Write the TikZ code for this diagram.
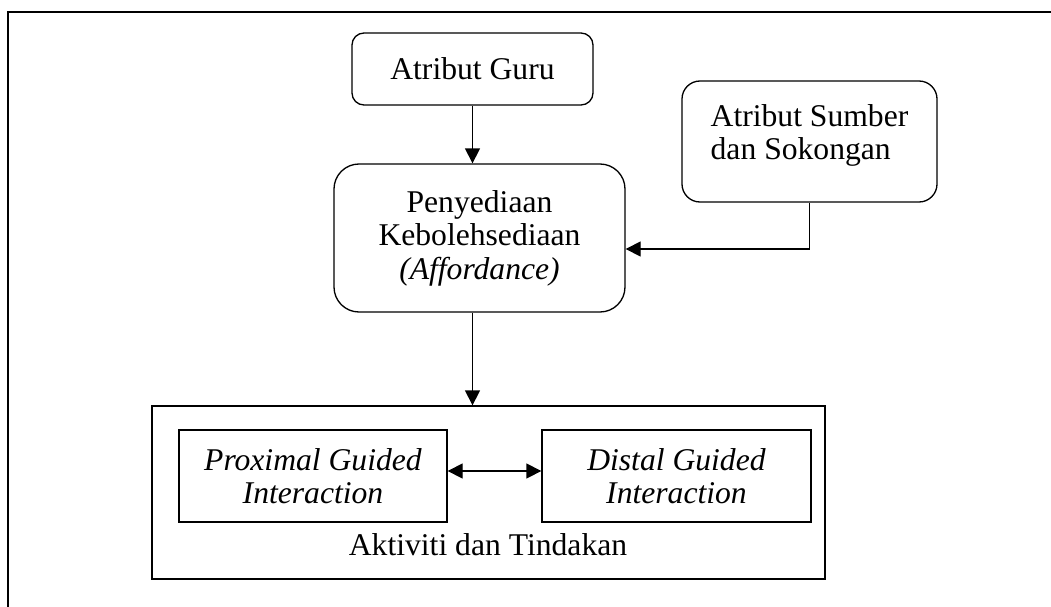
\documentclass[tikz,border=0pt]{standalone}
\usepackage{fontspec}
\setmainfont{Liberation Serif}
\usepackage{tikz}
\usetikzlibrary{arrows.meta,positioning,calc}

\begin{document}
\begin{tikzpicture}[
    font=\fontsize{18}{19}\selectfont,
    line width=0.75pt,
    tip/.style={-{Triangle[length=0.3cm,width=0.3cm]}},
    roundbox/.style={draw, rounded corners=0.3cm, align=center, inner sep=0pt},
    plainbox/.style={draw, align=center, inner sep=0pt}
  ]
    \useasboundingbox (0,0) rectangle (21.02,-12.12);
    \clip (0,0) rectangle (21.02,-12.12);

    % outer frame (cut off at right and bottom)
    \draw[line width=0.85pt] (0.16,-12.5) -- (0.16,-0.24) -- (21.5,-0.24);

    % Atribut Guru (top)
    \node[roundbox, rounded corners=0.24cm, minimum width=4.82cm, minimum height=1.44cm]
      (guru) at (9.45,-1.38) {Atribut Guru};

    % Atribut Sumber (right)
    \node[roundbox, rounded corners=0.36cm, align=left, minimum width=5.1cm, minimum height=2.42cm]
      (sumber) at (16.19,-2.83) {Atribut Sumber\\dan Sokongan\\[-0.3cm]};

    % Penyediaan Kebolehsediaan (middle)
    \node[roundbox, rounded corners=0.5cm, minimum width=5.82cm, minimum height=2.96cm]
      (sedia) at (9.59,-4.76) {Penyediaan\\Kebolehsediaan\\\textit{(Affordance)}};

    % Aktiviti dan Tindakan (bottom)
    \node[plainbox, minimum width=13.46cm, minimum height=3.46cm] (aktiviti) at (9.77,-9.85) {};
    \node (aktlabel) at (9.76,-10.9) {Aktiviti dan Tindakan};
    \node[plainbox, minimum width=5.36cm, minimum height=1.84cm]
      (proximal) at (6.26,-9.52) {\textit{Proximal Guided}\\\textit{Interaction}};
    \node[plainbox, minimum width=5.38cm, minimum height=1.84cm]
      (distal) at (13.53,-9.52) {\textit{Distal Guided}\\\textit{Interaction}};

    % connectors
    \draw[tip] (guru.south) -- (guru.south |- sedia.north);
    \draw[tip] (guru.south |- sedia.south) -- (guru.south |- aktiviti.north);
    \draw[tip] (sumber.south) |- ($(sedia.east)+(0,-0.22)$);
    \draw[{Triangle[length=0.3cm,width=0.3cm]}-{Triangle[length=0.3cm,width=0.3cm]}]
      ($(proximal.east)+(0,0.1)$) -- ($(distal.west)+(0,0.1)$);
  \end{tikzpicture}
\end{document}
